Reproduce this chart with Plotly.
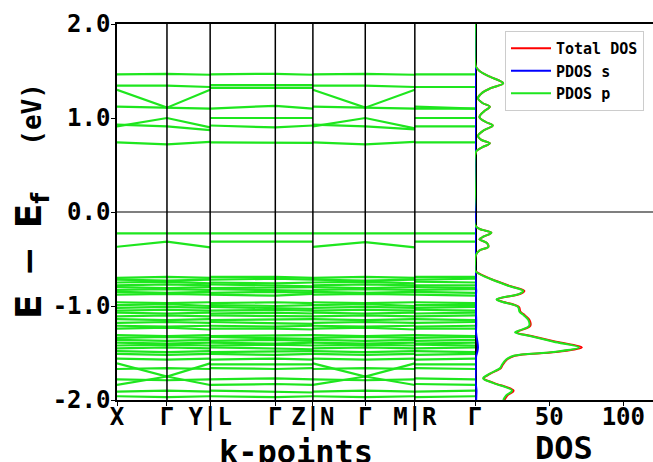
import plotly.graph_objects as go

# ---------------- data ----------------
k_labels = ["X", "Γ", "Y|L", "Γ", "Z|N", "Γ", "M|R", "Γ"]
k_ticks = [0.0, 0.500, 0.932, 1.584, 1.960, 2.484, 2.980, 3.582]

# band energies at nodes: X, Γ, Y | L, Γ, Z | N, Γ, M | R, Γ
bands_cond = [
    [1.465, 1.47, 1.46, 1.465, 1.47, 1.46, 1.465, 1.47, 1.46, 1.465, 1.465],
    [1.345, 1.345, 1.33, 1.35, 1.35, 1.35, 1.345, 1.345, 1.33, 1.33, 1.33],
    [1.30, 1.11, 1.30, 1.32, 1.32, 1.32, 1.30, 1.11, 1.30, 1.12, 1.10],
    [1.12, 1.11, 1.10, 1.10, 1.13, 1.10, 1.12, 1.11, 1.10, 1.10, 1.10],
    [0.91, 1.00, 0.90, 1.00, 1.00, 1.00, 0.91, 1.00, 0.89, 1.00, 1.00],
    [0.93, 0.91, 0.87, 0.92, 0.90, 0.92, 0.93, 0.91, 0.88, 0.91, 0.91],
    [0.74, 0.72, 0.745, 0.74, 0.74, 0.735, 0.74, 0.72, 0.745, 0.74, 0.74],
]
bands_mid = [
    [-0.227, -0.227, -0.227, -0.227, -0.227, -0.227, -0.227, -0.227, -0.227, -0.227, -0.227],
    [-0.37, -0.316, -0.376, -0.316, -0.316, -0.316, -0.37, -0.32, -0.376, -0.316, -0.316],
]
bands_val = [
    [-0.70, -0.69, -0.70, -0.69, -0.69, -0.70, -0.70, -0.69, -0.70, -0.69, -0.69],
    [-0.72, -0.73, -0.72, -0.72, -0.71, -0.72, -0.72, -0.73, -0.72, -0.72, -0.71],
    [-0.75, -0.74, -0.76, -0.75, -0.76, -0.75, -0.75, -0.74, -0.76, -0.74, -0.75],
    [-0.78, -0.77, -0.78, -0.77, -0.78, -0.79, -0.78, -0.77, -0.78, -0.78, -0.78],
    [-0.80, -0.81, -0.80, -0.81, -0.80, -0.80, -0.80, -0.81, -0.80, -0.80, -0.81],
    [-0.83, -0.82, -0.83, -0.82, -0.83, -0.84, -0.83, -0.82, -0.83, -0.83, -0.82],
    [-0.85, -0.86, -0.85, -0.86, -0.85, -0.86, -0.85, -0.86, -0.85, -0.85, -0.86],
    [-0.88, -0.87, -0.88, -0.88, -0.89, -0.87, -0.88, -0.87, -0.88, -0.88, -0.89],
    [-0.96, -0.97, -0.96, -0.97, -0.96, -0.97, -0.96, -0.97, -0.96, -0.96, -0.97],
    [-0.99, -0.98, -1.00, -0.99, -1.00, -0.99, -0.99, -0.98, -1.00, -0.99, -0.99],
    [-1.02, -1.01, -1.02, -1.01, -1.02, -1.03, -1.02, -1.01, -1.02, -1.02, -1.01],
    [-1.05, -1.04, -1.05, -1.05, -1.04, -1.05, -1.05, -1.04, -1.05, -1.04, -1.05],
    [-1.07, -1.08, -1.07, -1.08, -1.07, -1.08, -1.07, -1.08, -1.07, -1.08, -1.07],
    [-1.11, -1.10, -1.11, -1.10, -1.11, -1.11, -1.11, -1.10, -1.11, -1.11, -1.10],
    [-1.14, -1.15, -1.14, -1.15, -1.14, -1.14, -1.14, -1.15, -1.14, -1.14, -1.15],
    [-1.18, -1.17, -1.18, -1.17, -1.18, -1.19, -1.18, -1.17, -1.18, -1.18, -1.17],
    [-1.21, -1.22, -1.21, -1.21, -1.22, -1.21, -1.21, -1.22, -1.21, -1.22, -1.21],
    [-1.24, -1.23, -1.25, -1.24, -1.24, -1.25, -1.24, -1.23, -1.25, -1.24, -1.24],
    [-1.31, -1.32, -1.31, -1.32, -1.31, -1.31, -1.31, -1.32, -1.31, -1.31, -1.32],
    [-1.34, -1.33, -1.34, -1.33, -1.34, -1.35, -1.34, -1.33, -1.34, -1.34, -1.33],
    [-1.36, -1.37, -1.36, -1.37, -1.36, -1.37, -1.36, -1.37, -1.36, -1.37, -1.36],
    [-1.39, -1.40, -1.39, -1.39, -1.40, -1.39, -1.39, -1.40, -1.39, -1.40, -1.39],
    [-1.42, -1.41, -1.42, -1.42, -1.41, -1.42, -1.42, -1.41, -1.42, -1.41, -1.42],
    [-1.45, -1.44, -1.45, -1.44, -1.45, -1.46, -1.45, -1.44, -1.45, -1.45, -1.44],
    [-1.48, -1.49, -1.48, -1.49, -1.48, -1.48, -1.48, -1.49, -1.48, -1.48, -1.49],
    [-1.51, -1.52, -1.51, -1.51, -1.52, -1.51, -1.51, -1.52, -1.51, -1.52, -1.51],
    [-1.56, -1.57, -1.56, -1.57, -1.56, -1.57, -1.56, -1.57, -1.56, -1.57, -1.56],
    [-1.61, -1.75, -1.61, -1.62, -1.62, -1.62, -1.61, -1.75, -1.61, -1.62, -1.62],
    [-1.84, -1.75, -1.84, -1.84, -1.83, -1.84, -1.84, -1.75, -1.84, -1.83, -1.84],
    [-1.67, -1.66, -1.67, -1.66, -1.67, -1.66, -1.67, -1.66, -1.67, -1.66, -1.67],
    [-1.78, -1.79, -1.78, -1.78, -1.77, -1.78, -1.78, -1.79, -1.78, -1.77, -1.78],
    [-1.91, -1.90, -1.91, -1.90, -1.91, -1.92, -1.91, -1.90, -1.91, -1.91, -1.90],
    [-1.96, -1.97, -1.96, -1.96, -1.97, -1.96, -1.96, -1.97, -1.96, -1.97, -1.96],
]

dos_E = [2.00, 1.60, 1.55, 1.50, 1.44, 1.37, 1.32, 1.27, 1.21, 1.16, 1.12, 1.07, 1.01,
         0.96, 0.92, 0.87, 0.81, 0.77, 0.73, 0.69, 0.65, 0.60, 0.20, -0.14, -0.18,
         -0.22, -0.26, -0.29, -0.33, -0.37, -0.41, -0.46, -0.55, -0.62, -0.64, -0.71,
         -0.79, -0.84, -0.87, -0.93, -0.95, -1.01, -1.06, -1.10, -1.15, -1.21, -1.26,
         -1.28, -1.32, -1.38, -1.44, -1.49, -1.53, -1.57, -1.63, -1.66, -1.72, -1.77,
         -1.82, -1.90, -1.95, -2.00]
pdos_p = [0, 0, 0.5, 3, 10, 19, 11, 5, 2, 5, 10, 6, 3,
          7, 12, 6, 2, 4, 10, 5, 1, 0, 0, 0, 3,
          11, 6, 3, 8, 9, 3, 0.5, 0, 0, 1, 10,
          23.5, 32.5, 30, 14.5, 17, 29, 30, 33, 36, 36.5, 30,
          27, 37, 53, 70, 53, 26, 21, 18, 17, 10, 5.5,
          12.5, 25, 21, 19]
pdos_s = [0, 0, 0, 0, 0, 0, 0, 0, 0, 0, 0, 0, 0,
          0, 0, 0, 0, 0, 0, 0, 0, 0, 0, 0, 0,
          0, 0, 0, 0, 0, 0, 0, 0, 0, 0.1, 0.4,
          0.6, 0.8, 0.7, 0.4, 0.5, 0.6, 0.6, 0.7, 0.8, 0.8, 0.7,
          0.7, 1.0, 1.6, 2.0, 1.5, 0.8, 0.6, 0.5, 0.5, 0.4, 0.3,
          0.5, 1.0, 0.9, 0.8]
dos_total = [0, 0, 0.5, 3, 10, 19, 11, 5, 2, 5, 10, 6, 3,
             7, 12, 6, 2, 4, 10, 5, 1, 0, 0, 0, 3,
             11, 6, 3, 8, 9, 3, 0.5, 0, 0, 1.1, 10.4,
             24.1, 33.3, 30.7, 14.9, 17.5, 29.6, 30.6, 33.7, 36.8, 37.3, 30.7,
             27.7, 38, 54.6, 72, 54.5, 26.8, 21.6, 18.5, 17.5, 10.4, 5.8,
             13, 26, 21.9, 19.8]

y_ticks = [-2, -1, 0, 1, 2]
y_ticktext = ["-2.0", "-1.0", "0.0", "1.0", "2.0"]
dos_ticks = [50, 100]

# ---------------- styles ----------------
GREEN = "rgb(30,230,30)"
MONO = "DejaVu Sans Mono"
W, H = 653, 462
ML, MR, MT, MB = 117, 0, 24, 62
PW = W - ML - MR
PH = H - MT - MB
split = (475 - ML) / PW


def px_x(p):
    return (p - ML) / PW


def px_y(p):
    return (H - MB - p) / PH


# build band polyline
pos_idx = [0, 1, 2, 2, 3, 4, 4, 5, 6, 6, 7]
groups = [(0, 1, 2), (3, 4, 5), (6, 7, 8), (9, 10)]
bx, by = [], []
for band in bands_cond + bands_mid + bands_val:
    for g in groups:
        for i in g:
            bx.append(k_ticks[pos_idx[i]])
            by.append(band[i])
        bx.append(None)
        by.append(None)

fig = go.Figure()
fig.add_trace(go.Scatter(x=bx, y=by, mode="lines", line=dict(color=GREEN, width=2.2),
                         showlegend=False, hoverinfo="skip", xaxis="x", yaxis="y"))
fig.add_trace(go.Scatter(x=dos_total, y=dos_E, mode="lines", name="Total DOS",
                         line=dict(color="red", width=2, shape="spline"),
                         xaxis="x2", yaxis="y2"))
fig.add_trace(go.Scatter(x=pdos_s, y=dos_E, mode="lines", name="PDOS s",
                         line=dict(color="blue", width=2, shape="spline"),
                         xaxis="x2", yaxis="y2"))
fig.add_trace(go.Scatter(x=pdos_p, y=dos_E, mode="lines", name="PDOS p",
                         line=dict(color=GREEN, width=2, shape="spline"),
                         xaxis="x2", yaxis="y2"))

tickfont = dict(family=MONO, size=24, color="black", weight="bold")

shapes = []
for k in k_ticks[1:-1]:
    shapes.append(dict(type="line", xref="x", yref="paper", x0=k, x1=k, y0=0, y1=1,
                       line=dict(color="black", width=1.5), layer="above"))
shapes.append(dict(type="line", xref="paper", yref="y", x0=0, x1=1, y0=0, y1=0,
                   line=dict(color="black", width=1.2), layer="above"))

common = dict(showgrid=False, zeroline=False, automargin=False, layer="above traces",
              linecolor="black", linewidth=1.5, tickcolor="black")

fig.update_layout(
    width=W, height=H,
    margin=dict(l=ML, r=MR, t=MT, b=MB, autoexpand=False),
    paper_bgcolor="white", plot_bgcolor="white",
    xaxis=dict(domain=[0, split], range=[k_ticks[0], k_ticks[-1]],
               tickvals=k_ticks, ticktext=k_labels, tickfont=tickfont, showline=True,
               ticks="outside", ticklen=4, ticklabelstandoff=-10, mirror=True, **common),
    yaxis=dict(range=[-2, 2], tickvals=y_ticks, ticktext=y_ticktext, tickfont=tickfont,
               showline=True,
               ticks="outside", ticklen=4, ticklabelstandoff=-4, mirror=True, **common),
    xaxis2=dict(domain=[split, 1], range=[0, 120], anchor="y2",
                tickvals=dos_ticks, tickfont=tickfont, showline=True,
                ticks="outside", ticklen=4, ticklabelstandoff=-10, mirror=True, **common),
    yaxis2=dict(range=[-2, 2], anchor="x2", matches="y", showticklabels=False,
                showline=False, ticks="", **common),
    legend=dict(x=px_x(505), y=px_y(31), xanchor="left", yanchor="top",
                bordercolor="#cccccc", borderwidth=1, bgcolor="rgba(255,255,255,0.85)",
                itemwidth=40, tracegroupgap=0,
                font=dict(family=MONO, size=15, color="black", weight="bold")),
    shapes=shapes,
    annotations=[
        dict(text='<span style="font-family:DejaVu Sans;font-size:36px">E\u2002−\u2002E<sub>f</sub></span>\u00a0\u00a0\u00a0(eV)',
             xref="paper", yref="paper", x=px_x(31), y=px_y(201), textangle=-90,
             xanchor="center", yanchor="middle", showarrow=False,
             font=dict(family=MONO, size=26, color="black", weight="bold")),
        dict(text="k-points", xref="paper", yref="paper", x=px_x(296), y=px_y(431),
             xanchor="center", yanchor="top", showarrow=False,
             font=dict(family=MONO, size=32, color="black", weight="bold")),
        dict(text="DOS", xref="paper", yref="paper", x=px_x(564), y=px_y(427),
             xanchor="center", yanchor="top", showarrow=False,
             font=dict(family=MONO, size=32, color="black", weight="bold")),
    ],
)

fig.write_html("out.html")
